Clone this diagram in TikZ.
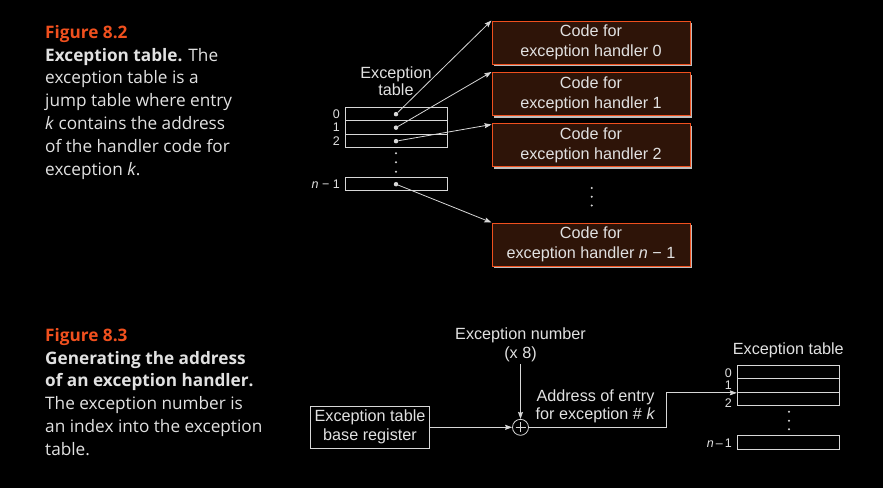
\documentclass[tikz,border=0pt]{standalone}
\usepackage{fontspec}
\setmainfont{Liberation Sans}
\newfontfamily\capfont{Open Sans}
\usetikzlibrary{arrows.meta,shadows}

\definecolor{figorange}{RGB}{240,80,30}
\definecolor{boxbrown}{RGB}{46,20,8}
\definecolor{linegray}{RGB}{215,215,215}
\definecolor{textgray}{RGB}{225,225,225}
\definecolor{shadowgray}{RGB}{190,190,190}

\tikzset{
  caption/.style={anchor=north west,align=left,inner sep=0pt,text=textgray,
    font=\capfont\fontsize{17.2}{22.8}\selectfont},
  lbl/.style={text=textgray,align=center,inner sep=2pt,
    font=\fontsize{16.2}{19}\selectfont},
  handler/.style={draw=figorange,fill=boxbrown,line width=1pt,
    minimum width=198pt,minimum height=43pt,align=center,text=textgray,
    font=\fontsize{16.2}{19.7}\selectfont,
    drop shadow={shadow xshift=2pt,shadow yshift=-2pt,fill=shadowgray,opacity=1}},
  entry/.style={draw=linegray,line width=1pt,minimum width=102pt,
    minimum height=13.5pt,inner sep=0pt},
  idx/.style={anchor=east,text=textgray,inner sep=0pt,
    font=\fontsize{12.5}{13}\selectfont},
  dot/.style={circle,fill=linegray,inner sep=0pt,minimum size=4.5pt},
  arrow/.style={-{Stealth[length=7pt,width=5pt,inset=1pt]},draw=linegray,line width=0.8pt},
  adder/.style={circle,draw=linegray,line width=0.8pt,minimum size=16pt,inner sep=0pt,
    path picture={\draw[linegray,line width=0.8pt]
      ([xshift=-5pt]path picture bounding box.center) -- ([xshift=5pt]path picture bounding box.center)
      ([yshift=-5pt]path picture bounding box.center) -- ([yshift=5pt]path picture bounding box.center);}},
}

\begin{document}
\begin{tikzpicture}[x=1pt,y=-1pt]
  \fill[black] (0,0) rectangle (883,488);

  % figure 8.2 caption
  \node[caption] (cap82) at (45,25) {{\color{figorange}\bfseries Figure 8.2}\\
    {\bfseries Exception table.} The\\
    exception table is a\\
    jump table where entry\\
    \textit{k} contains the address\\
    of the handler code for\\
    exception \textit{k}.};

  % jump table
  \node[lbl,font=\fontsize{16.2}{16.6}\selectfont] (ttop) at (396,81) {Exception\\table};
  \foreach \i/\y in {0/114.15,1/127.65,2/141.15} {
    \node[entry] (t\i) at (396,\y) {};
    \node[dot] (b\i) at (t\i) {};
    \node[idx] (l\i) at (340,\y) {\i};
  }
  \node[entry] (tn) at (396,184.2) {};
  \node[dot] (bn) at (tn) {};
  \node[idx] (ln) at (340,184.2) {\textit{n} − 1};
  \foreach \y in {153.3,162.3,171.7}
    \fill[linegray] (396,\y) circle (1.1pt);

  % handlers
  \node[handler] (h0) at (591,42.5) {Code for\\exception handler 0};
  \node[handler] (h1) at (591,94) {Code for\\exception handler 1};
  \node[handler] (h2) at (591,145) {Code for\\exception handler 2};
  \node[handler] (hn) at (591,244.5) {Code for\\exception handler \textit{n} − 1};
  \foreach \y in {188,196.8,205.5}
    \fill[linegray] (591.7,\y) circle (1.1pt);

  \draw[arrow] (b0) -- (h0.north west);
  \draw[arrow] (b1) -- (h1.north west);
  \draw[arrow] (b2) -- ([yshift=-1.5pt]h2.north west);
  \draw[arrow] (bn) -- (hn.north west);

  % figure 8.3 caption
  \node[caption] (cap83) at (45,328) {{\color{figorange}\bfseries Figure 8.3}\\
    {\bfseries Generating the address}\\
    {\bfseries of an exception handler.}\\
    The exception number is\\
    an index into the exception\\
    table.};

  % address computation
  \node[draw=linegray,line width=1pt,minimum width=119pt,minimum height=41.6pt,
    lbl] (base) at (370,427.3) {Exception table\\base register};
  \node[adder] (sum) at (520.5,427.3) {};
  \node[lbl] (num) at (520.5,345) {Exception number\\(x 8)};
  \node[lbl,font=\fontsize{16.2}{17.7}\selectfont] (addr) at (595.5,406.2) {Address of entry\\for exception \# \textit{k}};
  \draw[arrow] (base) -- (sum);
  \draw[arrow] (num) -- (sum);

  % small table
  \node[lbl] (tbot) at (788.3,350.7) {Exception table};
  \foreach \i/\y in {0/372,1/385.6,2/399.1} {
    \node[entry] (u\i) at (788.3,\y) {};
  }
  \node[entry,minimum height=14pt] (un) at (788.3,442.3) {};
  \node[idx] (m0) at (732,372.7) {0};
  \node[idx] (m1) at (732,385) {1};
  \node[idx] (m2) at (732,402.7) {2};
  \node[idx] (mn) at (732,442.7) {\textit{n}\,–\,1};
  \foreach \y in {411.7,420.7,429.3}
    \fill[linegray] (789,\y) circle (1.1pt);

  \coordinate (turn) at (666,0);
  \draw[arrow] (sum) -| (turn |- u1.south west) -- (u1.south west);
\end{tikzpicture}
\end{document}
